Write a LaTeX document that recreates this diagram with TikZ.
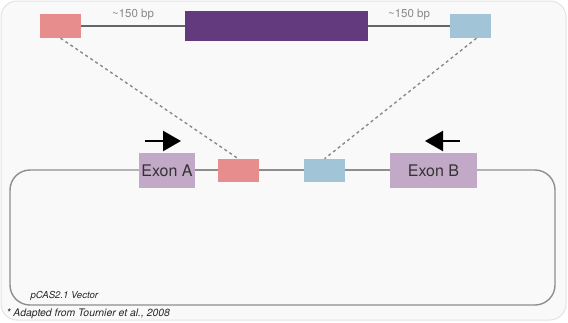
\documentclass[tikz,border=0pt]{standalone}
\usepackage{fontspec}
\setmainfont{TeX Gyre Heros}
\usetikzlibrary{arrows.meta}
\definecolor{cardbg}{HTML}{F9F9F9}
\definecolor{cardline}{HTML}{E3E3E3}
\definecolor{armpink}{HTML}{E88D8D}
\definecolor{armblue}{HTML}{A1C5D6}
\definecolor{insertpurple}{HTML}{633A7E}
\definecolor{exonlilac}{HTML}{C2A9C8}
\definecolor{dnaline}{HTML}{8E8E8A}
\definecolor{labelgray}{HTML}{8A8A8A}
\begin{document}
\begin{tikzpicture}[x=1pt,y=-1pt,
  seg/.style={draw=none,minimum height=24pt,minimum width=41pt,inner sep=0pt},
  exon/.style={fill=exonlilac,draw=none,minimum height=35pt,inner sep=0pt,
    font=\fontsize{16}{18}\selectfont,text=black!80},
  dna/.style={draw=dnaline,line width=1.4pt},
  link/.style={draw=labelgray,line width=1.4pt,dash pattern=on 3pt off 3pt},
  bp/.style={font=\fontsize{11.5}{13}\selectfont,text=labelgray},
  primer/.style={line width=2.4pt,-{Triangle[length=18pt,width=20pt]}},
  note/.style={font=\fontsize{10}{12}\selectfont\itshape,anchor=west,text=black!85}]
\useasboundingbox (0,0) rectangle (568,322);
% card background
\draw[fill=cardbg,draw=cardline,line width=1pt,rounded corners=16pt] (1,1) rectangle (566,320);

% top construct: homology arm -- insert -- homology arm
\node[seg,fill=armpink] (topA) at (60.5,26) {};
\node[fill=insertpurple,minimum width=183pt,minimum height=30pt,inner sep=0pt] (insert) at (276.5,26) {};
\node[seg,fill=armblue] (topB) at (470.5,26) {};
\draw[dna,draw=black!60] (topA.east) -- (insert.west) node[bp,midway,above=2pt] {\textasciitilde150 bp};
\draw[dna,draw=black!60] (insert.east) -- (topB.west) node[bp,midway,above=2pt] {\textasciitilde150 bp};

% vector backbone
\draw[dna,rounded corners=20pt] (139,170) -- (10,170) -- (10,305) -- (555,305) -- (555,170) -- (477,170);
\draw[dna] (195,170) -- (390,170);

% vector elements
\node[exon,minimum width=56pt] (exA) at (167,170.5) {Exon A};
\node[seg,minimum height=23pt,fill=armpink] (midA) at (238.5,170.5) {};
\node[seg,minimum height=23pt,fill=armblue] (midB) at (324.5,170.5) {};
\node[exon,minimum width=87pt] (exB) at (433.5,170.5) {Exon B};

% homology arm correspondence
\draw[link] (topA.south) -- (midA.north);
\draw[link] (topB.south) ++(6,0) coordinate (topBfoot) -- (midB.north);

% primers
\coordinate (pAs) at (145,141);
\coordinate (pAe) at (181,141);
\coordinate (pBs) at (460,141);
\coordinate (pBe) at (425,141);
\draw[primer] (pAs) -- (pAe);
\draw[primer] (pBs) -- (pBe);

% captions
\node[note,font=\fontsize{9.6}{11}\selectfont\itshape] (vec) at (27,296) {pCAS2.1 Vector};
\node[note,font=\fontsize{10.4}{12}\selectfont\itshape] (cite) at (3,314) {* Adapted from Tournier et al., 2008};
\end{tikzpicture}
\end{document}
